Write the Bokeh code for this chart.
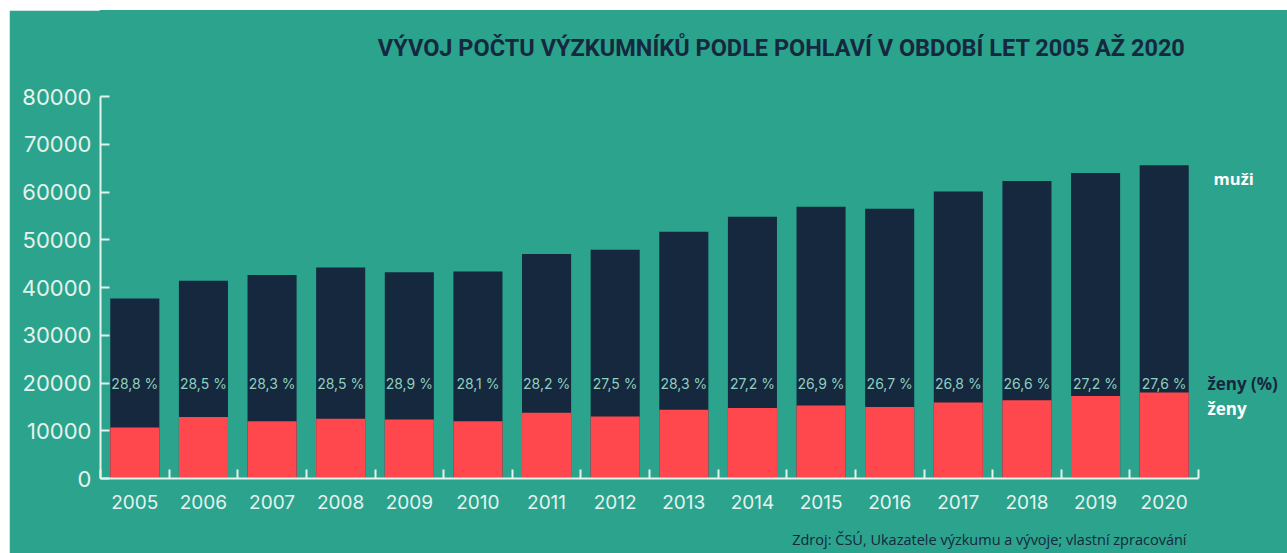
from bokeh.plotting import figure
from bokeh.models import ColumnDataSource, FixedTicker, Range1d, Title, Spacer
from bokeh.layouts import row, column
from bokeh.core.properties import value
from bokeh.embed import file_html
from bokeh.resources import INLINE

years = ["2005", "2006", "2007", "2008", "2009", "2010", "2011", "2012",
         "2013", "2014", "2015", "2016", "2017", "2018", "2019", "2020"]
total = [37700, 41400, 42600, 44200, 43200, 43350, 47000, 47900,
         51700, 54800, 56900, 56500, 60100, 62300, 64000, 65600]
women = [10700, 12900, 12000, 12500, 12350, 12000, 13750, 13000,
         14400, 14750, 15300, 15000, 15900, 16400, 17300, 18000]
women_pct = ["28,8 %", "28,5 %", "28,3 %", "28,5 %", "28,9 %", "28,1 %", "28,2 %", "27,5 %",
             "28,3 %", "27,2 %", "26,9 %", "26,7 %", "26,8 %", "26,6 %", "27,2 %", "27,6 %"]
y_ticks = [0, 10000, 20000, 30000, 40000, 50000, 60000, 70000, 80000]
pct_label_level = 20000
series_names = ["muži", "ženy (%)", "ženy"]
series_label_y = [62800, 20000, 14700]
series_label_x = [16.22, 16.13, 16.13]
title_text = "VÝVOJ POČTU VÝZKUMNÍKŮ PODLE POHLAVÍ V OBDOBÍ LET 2005 AŽ 2020"
source_text = "Zdroj: ČSÚ, Ukazatele výzkumu a vývoje; vlastní zpracování"

TEAL = "#2ca38d"
NAVY = "#15283e"
RED = "#ff474e"
LIGHT = "#e4f3ee"

n = len(years)
YMAX = 80000
xc = [i + 0.5 for i in range(n)]
src = ColumnDataSource(dict(x=xc, total=total, women=women, pct=women_pct,
                            lvl=[pct_label_level] * n, zero=[0] * n))

# frame spans from the y axis to the right edge and to the top; axis lines are bounded to the data area
p = figure(width=1278, height=543, output_backend="svg", toolbar_location=None,
           x_range=Range1d(0, n + 89 / 68.625), y_range=Range1d(0, YMAX * 468 / 382),
           min_border_left=91, min_border_right=0, min_border_top=0, min_border_bottom=75)
p.background_fill_color = TEAL
p.border_fill_color = TEAL
p.outline_line_color = TEAL
p.outline_line_width = 2
p.grid.visible = False

bw = 0.715
p.vbar(x="x", top="total", bottom="zero", width=bw, source=src, fill_color=NAVY, line_color=None)
p.vbar(x="x", top="women", bottom="zero", width=bw, source=src, fill_color=RED, line_color=None)

p.text(x="x", y="lvl", text="pct", source=src, text_align="center", text_baseline="middle",
       text_font_size="14px", text_color="#8fcfbf", text_font=value("Inter"))

# series labels on the right
lsrc = ColumnDataSource(dict(x=series_label_x, y=series_label_y, t=series_names,
                             c=["white", NAVY, "white"], s=["16.5px", "17px", "17px"]))
p.text(x="x", y="y", text="t", source=lsrc, text_align="left", text_baseline="middle",
       text_font=value("Open Sans"), text_font_style="bold", text_font_size="s", text_color="c")

# chart heading
p.text(x=[n - 0.19], y=[YMAX * (1 + 49 / 382)], text=[title_text], text_align="right",
       text_baseline="middle", text_font=value("Roboto"), text_font_style="bold",
       text_font_size="23.5px", text_color=NAVY)

# axes
xa = p.xaxis[0]
xa.bounds = (0, n)
xa.ticker = FixedTicker(ticks=xc, minor_ticks=list(range(n + 1)))
xa.major_label_overrides = {x: y for x, y in zip(xc, years)}
xa.major_tick_in = 0
xa.major_tick_out = 0
xa.minor_tick_in = 9
xa.minor_tick_out = 0
xa.minor_tick_line_color = LIGHT
xa.minor_tick_line_width = 2
xa.axis_line_color = LIGHT
xa.axis_line_width = 2
xa.major_label_text_color = LIGHT
xa.major_label_text_font = "Inter"
xa.major_label_text_font_size = "19px"
xa.major_label_standoff = 16

ya = p.yaxis[0]
ya.bounds = (0, YMAX)
ya.ticker = FixedTicker(ticks=y_ticks)
ya.major_tick_in = 9
ya.major_tick_out = 0
ya.minor_tick_in = 0
ya.minor_tick_out = 0
ya.major_tick_line_color = LIGHT
ya.major_tick_line_width = 2
ya.axis_line_color = LIGHT
ya.axis_line_width = 2
ya.major_label_text_color = LIGHT
ya.major_label_text_font = "Inter"
ya.major_label_text_font_size = "22px"
ya.major_label_standoff = 9
ya.formatter.use_scientific = False

# source note below the axis (a small blank title gives the gap)
p.add_layout(Title(text=" ", text_font_size="1px", standoff=12), "below")
p.add_layout(Title(text=source_text, align="right", offset=101, standoff=2, text_font="Open Sans",
                   text_font_style="normal", text_font_size="14.5px", text_color=NAVY), "below")

layout = column(Spacer(height=10), row(Spacer(width=9), p, spacing=0), spacing=0)
open("out.html", "w").write(file_html(layout, INLINE))
